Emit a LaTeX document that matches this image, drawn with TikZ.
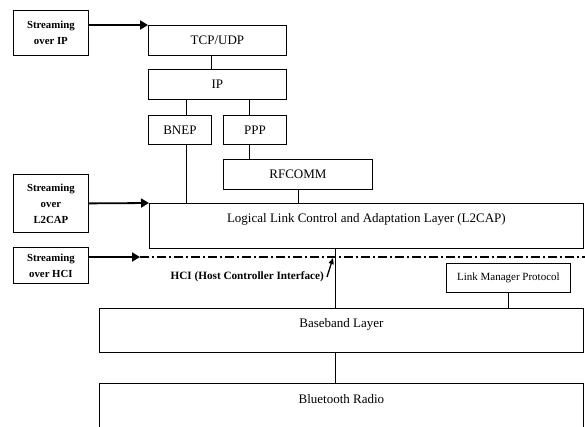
\documentclass[tikz,border=0pt]{standalone}
\usepackage{fontspec}
\setmainfont{Liberation Serif}
\usetikzlibrary{arrows.meta}

\tikzset{
  layer/.style={draw, line width=0.8pt, anchor=north west, inner sep=0pt,
                font=\fontsize{13}{15}\selectfont},
  stream/.style={layer, minimum width=75pt, align=center,
                 font=\bfseries\fontsize{10.8}{16}\selectfont},
  toptext/.style={label={[anchor=center, yshift=-16pt,
                  font=\fontsize{13}{15}\selectfont]north:#1}},
  feed/.style={->, line width=1.8pt},
  link/.style={line width=0.8pt}
}

\begin{document}
\begin{tikzpicture}[x=1pt, y=-1pt, >={Triangle[length=8pt,width=9pt]}]
% Frame
\clip (0,0) rectangle (585,426);

% Stack
\path (148,25)  node[layer, minimum width=138pt, minimum height=30pt] (TCP) {TCP/UDP}
      (148,69)  node[layer, minimum width=138pt, minimum height=30pt] (IP) {IP}
      (148,115) node[layer, minimum width=63pt, minimum height=29pt] (BNEP) {BNEP}
      (223,115) node[layer, minimum width=63pt, minimum height=29pt] (PPP) {PPP}
      (223,159) node[layer, minimum width=149pt, minimum height=30pt] (RFCOMM) {RFCOMM}
      (149,203) node[layer, minimum width=434pt, minimum height=45pt,
                     toptext={Logical Link Control and Adaptation Layer (L2CAP)}] (L2CAP) {}
      (446,263) node[layer, minimum width=124pt, minimum height=29pt,
                     font=\fontsize{11}{13}\selectfont] (LMP) {Link Manager Protocol}
      (99,308)  node[layer, minimum width=484pt, minimum height=44pt,
                     toptext={Baseband Layer}] (Baseband) {}
      (99,383)  node[layer, minimum width=484pt, minimum height=60pt,
                     toptext={Bluetooth Radio}] (Radio) {};

% Streaming sources
\path (13,10)  node[stream, minimum height=45pt] (OverIP) {Streaming\\over IP}
      (13,174) node[stream, minimum height=58pt] (OverL2CAP) {Streaming\\over\\L2CAP}
      (13,247) node[stream, minimum height=36pt] (OverHCI) {Streaming\\over HCI};

% HCI boundary
\coordinate (HCIleft)  at (140,257);
\coordinate (HCIright) at (585,257);
\coordinate (HCIcross) at (335,257);
\path (324,277) node[anchor=east, inner sep=0pt,
                     font=\bfseries\fontsize{11.2}{13}\selectfont] (HCI) {HCI (Host Controller Interface)};

% Links
\draw[link] ([xshift=-6pt]TCP.south) -- ([xshift=-6pt]TCP.south |- IP.north);
\draw[link] ([xshift=6pt]BNEP.north) -- ([xshift=6pt]BNEP.north |- IP.south);
\draw[link] ([xshift=-6pt]PPP.north) -- ([xshift=-6pt]PPP.north |- IP.south);
\draw[link] ([xshift=-6pt]PPP.south) -- ([xshift=-6pt]PPP.south |- RFCOMM.north);
\draw[link] ([xshift=6pt]BNEP.south) -- ([xshift=6pt]BNEP.south |- L2CAP.north);
\draw[link] (RFCOMM.south) -- (RFCOMM.south |- L2CAP.north);
\draw[link] (HCIcross |- L2CAP.south) -- (HCIcross |- Baseband.north);
\draw[link] (LMP.south) -- (LMP.south |- Baseband.north);
\draw[link] (HCIcross |- Baseband.south) -- (HCIcross |- Radio.north);

% Streams
\draw[feed] (OverIP.east |- TCP.north west) -- (TCP.north west);
\draw[feed] (OverL2CAP.east) -- (L2CAP.north west);
\draw[dash pattern=on 9pt off 3pt on 2pt off 3pt, line width=1.8pt] (HCIleft) -- (HCIright);
\draw[feed] (OverHCI.east |- HCIleft) -- (HCIleft);
\draw[->, line width=1.3pt, >={Triangle[length=6pt,width=5pt]}]
  ([xshift=3pt]HCI.east) -- ([xshift=-2pt,yshift=-1pt]HCIcross);

\end{tikzpicture}
\end{document}
